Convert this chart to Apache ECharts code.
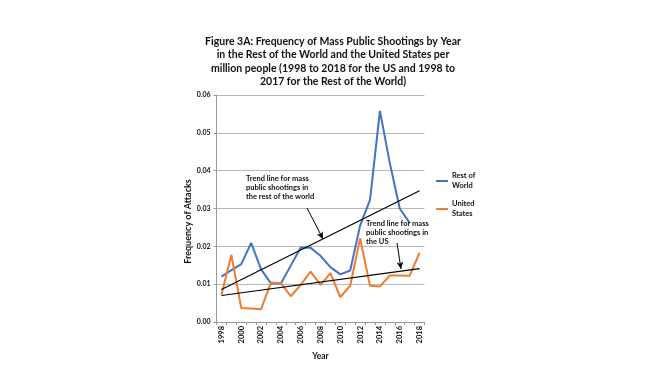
<!DOCTYPE html>
<html>
<head>
<meta charset="utf-8">
<script src="https://cdn.jsdelivr.net/npm/echarts@6/dist/echarts.min.js"></script>
<style>
html,body{margin:0;padding:0;background:#fff;}
#chart{width:660px;height:385px;}
</style>
</head>
<body>
<div id="chart"></div>
<script>
var years = ['1998','1999','2000','2001','2002','2003','2004','2005','2006','2007','2008','2009','2010','2011','2012','2013','2014','2015','2016','2017','2018'];
var restOfWorld = [0.0120, 0.0137, 0.0153, 0.0209, 0.0139, 0.0102, 0.0102, 0.0149, 0.0197, 0.0196, 0.0175, 0.0145, 0.0126, 0.0136, 0.0255, 0.0323, 0.0558, 0.0420, 0.0300, 0.0262, null];
var unitedStates = [0.0072, 0.0177, 0.0037, 0.0036, 0.0034, 0.0104, 0.0103, 0.0068, 0.0098, 0.0133, 0.0098, 0.0129, 0.0066, 0.0096, 0.0221, 0.0096, 0.0094, 0.0123, 0.0123, 0.0122, 0.0183];
var rowTrendEnds = [0.0086, 0.0347];
var usTrendEnds = [0.0070, 0.0141];
var yTicks = [0, 0.01, 0.02, 0.03, 0.04, 0.05, 0.06];

function trendSeries(ends) {
  return years.map(function (y, i) {
    if (i === 0) return ends[0];
    if (i === years.length - 1) return ends[1];
    return null;
  });
}

var FONT = 'Lato';
var chart = echarts.init(document.getElementById('chart'), null, {renderer: 'canvas'});
var option = {
  backgroundColor: '#ffffff',
  animation: false,
  title: {
    text: 'Figure 3A: Frequency of Mass Public Shootings by Year\nin the Rest of the World and the United States per\nmillion people (1998 to 2018 for the US and 1998 to\n2017 for the Rest of the World)',
    left: 328,
    top: 30,
    textAlign: 'center',
    textStyle: {fontFamily: FONT, fontWeight: 'bold', fontSize: 10.5, lineHeight: 13.3, color: '#111'}
  },
  legend: {
    data: ['Rest of World', 'United States'],
    orient: 'vertical',
    left: 431,
    top: 161,
    itemGap: -2,
    itemWidth: 12,
    itemHeight: 2,
    icon: 'rect',
    formatter: function (n) { return n === 'Rest of World' ? 'Rest of\nWorld' : 'United\nStates'; },
    textStyle: {fontFamily: FONT, fontWeight: 'bold', fontSize: 7.5, lineHeight: 10, color: '#111', padding: [10, 0, 0, -1]}
  },
  grid: {left: 216.5, right: 235.5, top: 95, bottom: 63},
  xAxis: {
    type: 'category',
    data: years,
    boundaryGap: true,
    name: 'Year',
    nameLocation: 'middle',
    nameGap: 27,
    nameTextStyle: {fontFamily: FONT, fontWeight: 'bold', fontSize: 8.5, color: '#111'},
    axisLine: {lineStyle: {color: '#999', width: 1}},
    axisTick: {show: true, alignWithLabel: false, interval: 0, length: 3, lineStyle: {color: '#999'}},
    axisLabel: {interval: 1, rotate: 90, fontFamily: FONT, fontWeight: 'bold', fontSize: 7.5, color: '#111', margin: 4}
  },
  yAxis: {
    type: 'value',
    min: 0,
    max: 0.06,
    interval: 0.01,
    name: 'Frequency of Attacks',
    nameLocation: 'middle',
    nameGap: 21,
    nameTextStyle: {fontFamily: FONT, fontWeight: 'bold', fontSize: 9, color: '#111', padding: [0, 26, 0, 0]},
    axisLine: {show: true, lineStyle: {color: '#999', width: 1}},
    axisTick: {show: true, length: 3, lineStyle: {color: '#999'}},
    splitLine: {lineStyle: {color: '#b8b8b8', width: 1}},
    axisLabel: {fontFamily: FONT, fontWeight: 'bold', fontSize: 7, color: '#111', margin: 6,
      formatter: function (v) { return v.toFixed(2); }}
  },
  series: [
    {
      name: 'Rest of World', type: 'line', data: restOfWorld, showSymbol: false, symbol: 'none',
      lineStyle: {color: '#4472C4', width: 2}, itemStyle: {color: '#4472C4'}, z: 3
    },
    {
      name: 'United States', type: 'line', data: unitedStates, showSymbol: false, symbol: 'none',
      lineStyle: {color: '#ED7D31', width: 2}, itemStyle: {color: '#ED7D31'}, z: 3
    },
    {
      name: 'Trend RoW', type: 'line', data: trendSeries(rowTrendEnds), connectNulls: true, symbol: 'none',
      lineStyle: {color: '#000', width: 1.2}, z: 4,
      markLine: {
        silent: true, symbol: ['none', 'arrow'], symbolSize: [5, 7],
        label: {show: false},
        lineStyle: {color: '#000', width: 1, type: 'solid'},
        data: [[{x: 307, y: 208}, {x: 323, y: 239}]]
      }
    },
    {
      name: 'Trend US', type: 'line', data: trendSeries(usTrendEnds), connectNulls: true, symbol: 'none',
      lineStyle: {color: '#000', width: 1.2}, z: 4,
      markLine: {
        silent: true, symbol: ['none', 'arrow'], symbolSize: [5, 7],
        label: {show: false},
        lineStyle: {color: '#000', width: 1, type: 'solid'},
        data: [[{x: 397, y: 243}, {x: 401, y: 269}]]
      }
    }
  ],
  graphic: [
    {
      type: 'text', left: 246, top: 174, z: 10,
      style: {text: 'Trend line for mass\npublic shootings in\nthe rest of the world', fontFamily: FONT, fontWeight: 'bold', fontSize: 7.5, lineHeight: 9.2, fill: '#111'}
    },
    {
      type: 'text', left: 366, top: 219, z: 10,
      style: {text: 'Trend line for mass\npublic shootings in\nthe US', fontFamily: FONT, fontWeight: 'bold', fontSize: 7.5, lineHeight: 9.2, fill: '#111'}
    }
  ]
};
chart.setOption(option);
</script>
</body>
</html>
